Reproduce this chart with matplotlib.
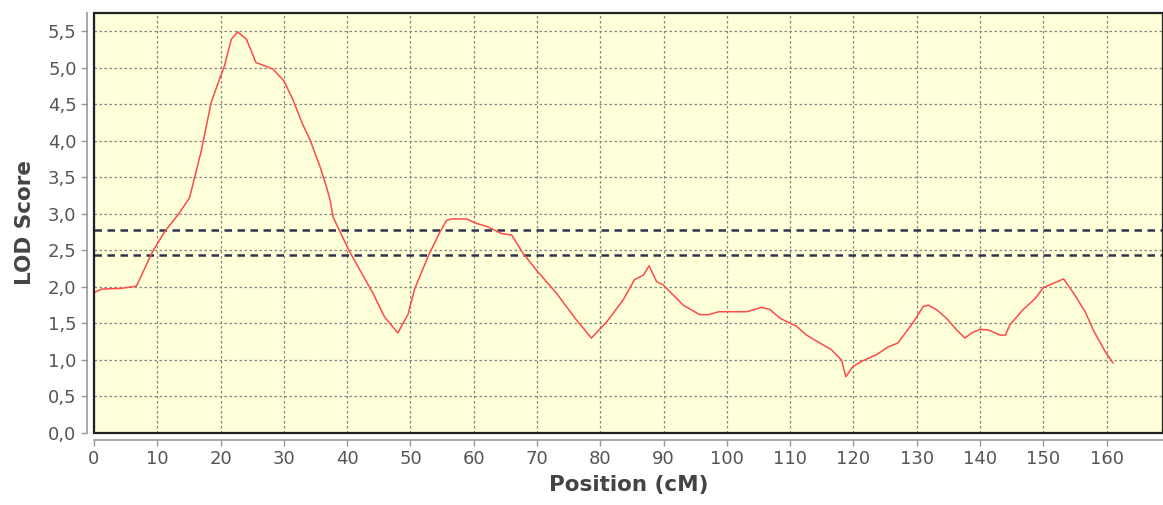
import matplotlib
matplotlib.use("Agg")
import matplotlib.pyplot as plt
from matplotlib.patches import Rectangle

# LOD profile (position in cM, LOD score)
position = [0, 1.2, 4.3, 6.7, 9.3, 11.2, 13.3, 15.1, 17.0, 18.5, 19.9, 20.6, 21.7, 22.7,
            24.1, 25.6, 27.2, 28.3, 30.0, 31.4, 33.0, 34.1, 35.7, 36.7, 37.3, 37.8, 40.4,
            44.1, 45.9, 48.0, 49.6, 50.7, 52.8, 54.6, 55.7, 56.5, 58.9, 60.4, 62.0, 64.4,
            66.0, 67.8, 69.9, 73.1, 76.2, 78.6, 81.0, 83.6, 85.4, 86.8, 87.7, 88.9, 89.9,
            93.1, 95.7, 97.1, 98.7, 103.1, 105.5, 106.8, 108.4, 111.0, 112.6, 114.7, 116.5,
            118.1, 118.8, 119.9, 121.5, 123.6, 125.5, 127.0, 129.4, 131.0, 131.8, 133.1,
            134.7, 136.3, 137.6, 138.7, 140.0, 141.3, 143.2, 144.0, 144.7, 146.8, 148.7,
            150.0, 151.6, 153.2, 154.8, 156.6, 158.0, 159.8, 161.0]
lod = [1.92, 1.97, 1.98, 2.01, 2.49, 2.76, 2.99, 3.22, 3.88, 4.52, 4.86, 5.02, 5.39, 5.49,
       5.39, 5.07, 5.02, 4.98, 4.82, 4.57, 4.22, 4.02, 3.65, 3.38, 3.19, 2.95, 2.48,
       1.91, 1.59, 1.37, 1.62, 1.98, 2.42, 2.74, 2.91, 2.93, 2.93, 2.87, 2.83, 2.73,
       2.71, 2.46, 2.23, 1.91, 1.55, 1.30, 1.52, 1.82, 2.10, 2.16, 2.29, 2.07, 2.03,
       1.75, 1.62, 1.62, 1.66, 1.66, 1.72, 1.69, 1.57, 1.46, 1.34, 1.23, 1.14,
       1.00, 0.77, 0.91, 0.99, 1.07, 1.18, 1.23, 1.51, 1.73, 1.75, 1.69,
       1.57, 1.41, 1.30, 1.37, 1.42, 1.41, 1.34, 1.34, 1.48, 1.69, 1.84,
       1.99, 2.05, 2.11, 1.91, 1.66, 1.39, 1.11, 0.96]

# significance thresholds
thresholds = [2.78, 2.43]

x_ticks = list(range(0, 161, 10))
y_ticks = [0, 0.5, 1.0, 1.5, 2.0, 2.5, 3.0, 3.5, 4.0, 4.5, 5.0, 5.5]
y_labels = ['0,0', '0,5', '1,0', '1,5', '2,0', '2,5', '3,0', '3,5', '4,0', '4,5', '5,0', '5,5']

fig = plt.figure(figsize=(11.63, 5.05), dpi=100)
ax = fig.add_axes([0.0808, 0.1426, 0.9192, 0.8317])
ax.set_facecolor('#ffffd9')

ax.plot(position, lod, color='#ff4a4a', lw=1.1, zorder=3)
for t in thresholds:
    ax.axhline(t, color='#2e3250', lw=1.8, linestyle=(0, (3, 2.2)), zorder=2)

ax.set_xlim(0, 168.9)
ax.set_ylim(0, 5.75)
ax.set_xticks(x_ticks)
ax.set_yticks(y_ticks)
ax.set_yticklabels(y_labels)

ax.grid(True, color='#858585', linestyle=(0, (2, 2)), lw=0.9, zorder=1)

# axis lines offset from the plot area
for side in ['top', 'right']:
    ax.spines[side].set_visible(False)
for side in ['left', 'bottom']:
    ax.spines[side].set_position(('outward', 5))
    ax.spines[side].set_color('#999999')
    ax.spines[side].set_linewidth(1.2)
ax.tick_params(colors='#999999', labelcolor='#555555', labelsize=13, length=4, width=1)

# dark frame around the data area
ax.add_patch(Rectangle((0, 0), 1, 1, transform=ax.transAxes, fill=False,
                       ec='#222222', lw=1.6, clip_on=False, zorder=4))

ax.set_xlabel('Position (cM)', fontsize=15.5, fontweight='bold', color='#444444', labelpad=5)
ax.set_ylabel('LOD Score', fontsize=15.5, fontweight='bold', color='#444444', labelpad=9)

fig.savefig('out.png', dpi=100)
